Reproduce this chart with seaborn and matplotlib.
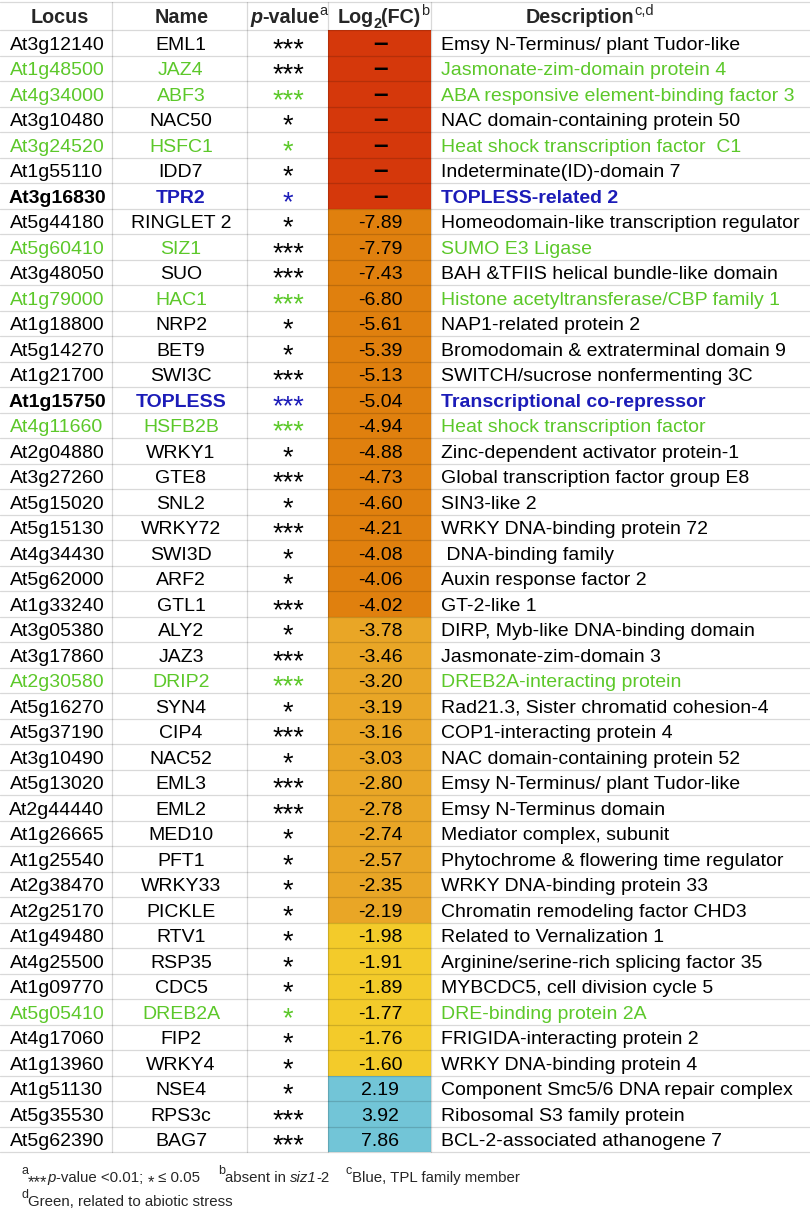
import numpy as np
import matplotlib.pyplot as plt
import seaborn as sns
from matplotlib.colors import ListedColormap

sns.set_theme(style='white')
plt.rcParams['font.family'] = ['Liberation Sans', 'DejaVu Sans']

# table data
locus = ['At3g12140', 'At1g48500', 'At4g34000', 'At3g10480', 'At3g24520', 'At1g55110', 'At3g16830',
         'At5g44180', 'At5g60410', 'At3g48050', 'At1g79000', 'At1g18800', 'At5g14270', 'At1g21700',
         'At1g15750', 'At4g11660', 'At2g04880', 'At3g27260', 'At5g15020', 'At5g15130', 'At4g34430',
         'At5g62000', 'At1g33240', 'At3g05380', 'At3g17860', 'At2g30580', 'At5g16270', 'At5g37190',
         'At3g10490', 'At5g13020', 'At2g44440', 'At1g26665', 'At1g25540', 'At2g38470', 'At2g25170',
         'At1g49480', 'At4g25500', 'At1g09770', 'At5g05410', 'At4g17060', 'At1g13960', 'At1g51130',
         'At5g35530', 'At5g62390']
names = ['EML1', 'JAZ4', 'ABF3', 'NAC50', 'HSFC1', 'IDD7', 'TPR2', 'RINGLET 2', 'SIZ1', 'SUO', 'HAC1',
         'NRP2', 'BET9', 'SWI3C', 'TOPLESS', 'HSFB2B', 'WRKY1', 'GTE8', 'SNL2', 'WRKY72', 'SWI3D', 'ARF2',
         'GTL1', 'ALY2', 'JAZ3', 'DRIP2', 'SYN4', 'CIP4', 'NAC52', 'EML3', 'EML2', 'MED10', 'PFT1',
         'WRKY33', 'PICKLE', 'RTV1', 'RSP35', 'CDC5', 'DREB2A', 'FIP2', 'WRKY4', 'NSE4', 'RPS3c', 'BAG7']
pvals = ['***', '***', '***', '*', '*', '*', '*', '*', '***', '***', '***', '*', '*', '***', '***', '***',
         '*', '***', '*', '***', '*', '*', '***', '*', '***', '***', '*', '***', '*', '***', '***', '*',
         '*', '*', '*', '*', '*', '*', '*', '*', '*', '*', '***', '***']
log2fc = [np.nan] * 7 + [-7.89, -7.79, -7.43, -6.80, -5.61, -5.39, -5.13, -5.04, -4.94, -4.88, -4.73,
                         -4.60, -4.21, -4.08, -4.06, -4.02, -3.78, -3.46, -3.20, -3.19, -3.16, -3.03,
                         -2.80, -2.78, -2.74, -2.57, -2.35, -2.19, -1.98, -1.91, -1.89, -1.77, -1.76,
                         -1.60, 2.19, 3.92, 7.86]
desc = ['Emsy N-Terminus/ plant Tudor-like', 'Jasmonate-zim-domain protein 4',
        'ABA responsive element-binding factor 3', 'NAC domain-containing protein 50',
        'Heat shock transcription factor  C1', 'Indeterminate(ID)-domain 7', 'TOPLESS-related 2',
        'Homeodomain-like transcription regulator', 'SUMO E3 Ligase', 'BAH &TFIIS helical bundle-like domain',
        'Histone acetyltransferase/CBP family 1', 'NAP1-related protein 2',
        'Bromodomain & extraterminal domain 9', 'SWITCH/sucrose nonfermenting 3C',
        'Transcriptional co-repressor', 'Heat shock transcription factor', 'Zinc-dependent activator protein-1',
        'Global transcription factor group E8', 'SIN3-like 2', 'WRKY DNA-binding protein 72',
        ' DNA-binding family', 'Auxin response factor 2', 'GT-2-like 1', 'DIRP, Myb-like DNA-binding domain',
        'Jasmonate-zim-domain 3', 'DREB2A-interacting protein', 'Rad21.3, Sister chromatid cohesion-4',
        'COP1-interacting protein 4', 'NAC domain-containing protein 52', 'Emsy N-Terminus/ plant Tudor-like',
        'Emsy N-Terminus domain', 'Mediator complex, subunit', 'Phytochrome & flowering time regulator',
        'WRKY DNA-binding protein 33', 'Chromatin remodeling factor CHD3', 'Related to Vernalization 1',
        'Arginine/serine-rich splicing factor 35', 'MYBCDC5, cell division cycle 5', 'DRE-binding protein 2A',
        'FRIGIDA-interacting protein 2', 'WRKY DNA-binding protein 4', 'Component Smc5/6 DNA repair complex',
        'Ribosomal S3 family protein', 'BCL-2-associated athanogene 7']
# k = plain, g = abiotic stress (green), b = TPL family (blue)
row_class = list('kggkgkbkgkgkkkbgkkkkkkkkkgkkkkkkkkkkkkgkkkkk')
star_class = list('kkgkgkbkkkgkkkbgkkkkkkkkkgkkkkkkkkkkkkgkkkkk')

cell_colors = ['#d5380b', '#e0800e', '#e9a626', '#f3cb2a', '#72c5d7']
text_colors = {'k': 'black', 'g': '#5cc82a', 'b': '#1c1cb8'}

n = len(locus)
W, H = 810, 1210
top, row_h = 30, 25.5
bottom = top + n * row_h
col_lines = [112, 247, 328, 431]

fig = plt.figure(figsize=(W / 100, H / 100), dpi=100)

# coloured log2(FC) column as a one-column heatmap
def fc_group(v):
    if np.isnan(v):
        return 0
    if v <= -4:
        return 1
    if v <= -2:
        return 2
    if v < 0:
        return 3
    return 4

codes = np.array([fc_group(v) for v in log2fc]).reshape(-1, 1)
hax = fig.add_axes([328 / W, 1 - bottom / H, (431 - 328) / W, (bottom - top) / H])
sns.heatmap(codes, cmap=ListedColormap(cell_colors), vmin=-0.5, vmax=4.5, cbar=False, ax=hax,
            xticklabels=False, yticklabels=False)

ax = fig.add_axes([0, 0, 1, 1])
ax.set_zorder(2)
ax.patch.set_alpha(0)
ax.set_xlim(0, W)
ax.set_ylim(H, 0)
ax.axis('off')

# grid lines
grid_c = (0, 0, 0, 0.15)
for y in [2, top] + [top + row_h * (i + 1) for i in range(n)]:
    ax.plot([0, W], [y, y], color=grid_c, lw=0.9)
for x in col_lines:
    ax.plot([x, x], [2, bottom], color=grid_c, lw=0.9)

renderer = fig.canvas.get_renderer()

def put_runs(x, y, parts, ha='left'):
    arts = []
    cx = x
    for s, kw in parts:
        kw = dict(kw)
        dy = kw.pop('dy', 0)
        t = ax.text(cx, y + dy, s, ha='left', va='baseline', **kw)
        cx += t.get_window_extent(renderer).width
        arts.append(t)
    if ha == 'center':
        shift = (cx - x) / 2
        for t in arts:
            t.set_x(t.get_position()[0] - shift)
        cx -= shift
    return cx

fs = 14.0
hfs = 14.2
sup = 10.5
hb = 23
bold = dict(fontsize=hfs, fontweight='bold')
put_runs(60, hb, [('Locus', bold)], ha='center')
put_runs(182, hb, [('Name', bold)], ha='center')
put_runs(289, hb, [('p', dict(bold, fontstyle='italic')), ('-value', bold),
                   ('a', dict(fontsize=sup, dy=-8))], ha='center')
put_runs(383, hb, [('Log', bold), ('2', dict(fontsize=sup, fontweight='bold', dy=5)), ('(FC)', bold),
                   ('b', dict(fontsize=sup, dy=-8))], ha='center')
put_runs(590, hb, [('Description', bold), ('c,d', dict(fontsize=sup, dy=-8))], ha='center')

for i in range(n):
    yc = top + row_h * (i + 0.5)
    yb = yc + 7
    cls = row_class[i]
    col = text_colors[cls]
    wt = 'bold' if cls == 'b' else 'normal'
    ax.text(57, yb, locus[i], ha='center', va='baseline', fontsize=fs, fontweight=wt,
            color='black' if cls == 'b' else col)
    ax.text(181, yb, names[i], ha='center', va='baseline', fontsize=fs, fontweight=wt, color=col)
    ax.text(288, yc + 14, pvals[i], ha='center', va='baseline', fontsize=19.5,
            color=text_colors[star_class[i]])
    v = log2fc[i]
    if np.isnan(v):
        ax.text(380, yb + 1, '\u2013', ha='center', va='baseline', fontsize=19, fontweight='bold',
                color='black')
    else:
        ax.text(380, yb, f'{v:.2f}', ha='center', va='baseline', fontsize=fs, color='black')
    ax.text(441, yb, desc[i], ha='left', va='baseline', fontsize=fs, fontweight=wt, color=col)

# footnotes
fn = dict(fontsize=10.8)
fsup = dict(fontsize=9, dy=-8)
star = dict(fontsize=12, dy=5)
end = put_runs(21, 1182, [('a', fsup), ('***', star), ('p', dict(fn, fontstyle='italic')),
                          ('-value <0.01; ', fn), ('*', star), (' \u2264 0.05', fn)])
end = put_runs(max(209, end + 18), 1182, [('b', fsup), ('absent in ', fn),
                                          ('siz1', dict(fn, fontstyle='italic')), ('-2', fn)])
put_runs(max(329, end + 16), 1182, [('c', fsup), ('Blue, TPL family member', fn)])
put_runs(21, 1206, [('d', fsup), ('Green, related to abiotic stress', fn)])

fig.savefig('out.png', dpi=100)
